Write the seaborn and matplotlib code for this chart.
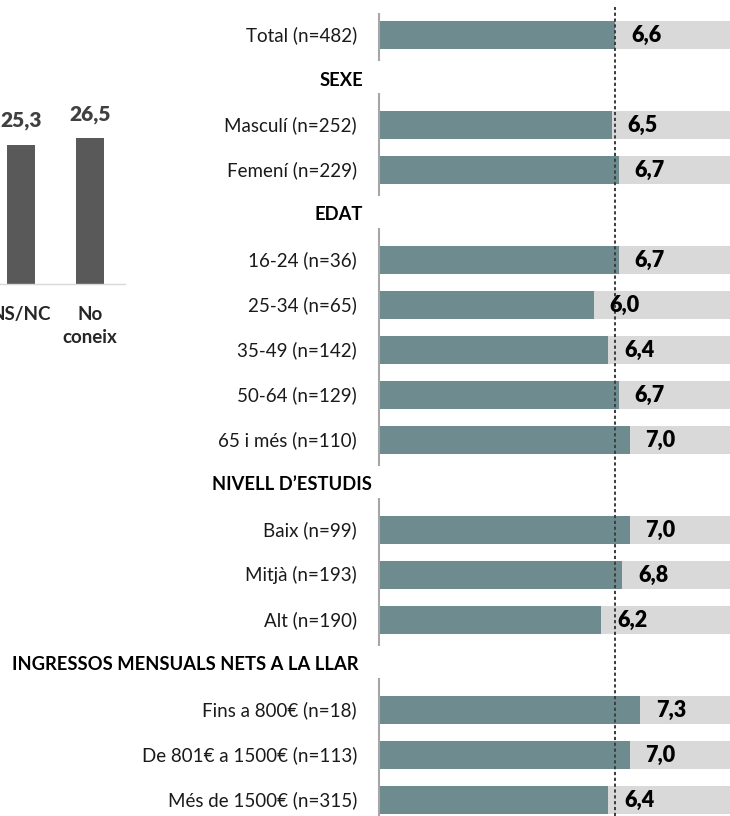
import matplotlib
matplotlib.use("Agg")
import matplotlib.pyplot as plt
import seaborn as sns
import pandas as pd
import numpy as np

sns.set_theme(style="white")
plt.rcParams['font.family'] = ['Lato', 'DejaVu Sans']

# Mean score (0-10) per group; header rows carry no value
row_labels = [
    "Total (n=482)",
    "SEXE", "Masculí (n=252)", "Femení (n=229)",
    "EDAT", "16-24 (n=36)", "25-34 (n=65)", "35-49 (n=142)", "50-64 (n=129)", "65 i més (n=110)",
    "NIVELL D’ESTUDIS", "Baix (n=99)", "Mitjà (n=193)", "Alt (n=190)",
    "INGRESSOS MENSUALS NETS A LA LLAR", "Fins a 800€ (n=18)", "De 801€ a 1500€ (n=113)",
    "Més de 1500€ (n=315)",
]
scores = [6.6,
          None, 6.5, 6.7,
          None, 6.7, 6.0, 6.4, 6.7, 7.0,
          None, 7.0, 6.8, 6.2,
          None, 7.3, 7.0, 6.4]
header_rows = ["SEXE", "EDAT", "NIVELL D’ESTUDIS", "INGRESSOS MENSUALS NETS A LA LLAR"]
scale_max = 10

# Side panel: percentage of respondents without an answer
side_categories = ["NS/NC", "No\nconeix"]
side_values = [25.3, 26.5]

TEAL = "#6E8B8F"
TRACK = "#D9D9D9"
W, H = 730, 816

df = pd.DataFrame({"label": row_labels, "score": scores})
df["score"] = pd.to_numeric(df["score"])
df["track"] = np.where(df["score"].notna(), scale_max, np.nan)

fig = plt.figure(figsize=(W / 100, H / 100), dpi=100)

# ---------- main horizontal bar chart ----------
axis_px = 379
ax = fig.add_axes([axis_px / W, 0, (W - axis_px) / W, 1])
sns.barplot(data=df, x="track", y="label", order=row_labels, orient="h",
            color=TRACK, saturation=1, width=0.63, errorbar=None,
            linewidth=0, ax=ax)
sns.barplot(data=df, x="score", y="label", order=row_labels, orient="h",
            color=TEAL, saturation=1, width=0.63, errorbar=None,
            linewidth=0, ax=ax)

px_per_unit = 35.8
ax.set_xlim(0, (W - axis_px) / px_per_unit)
row_px = 45.0
top_px = 35.0
ax.set_ylim((H - top_px) / row_px, -top_px / row_px)
ax.set_yticks([])
ax.set_xticks([])
ax.set_xlabel("")
ax.set_ylabel("")
for s in ax.spines.values():
    s.set_visible(False)

# broken category axis: one segment per block of rows
hdr_idx = [row_labels.index(h) for h in header_rows]
starts = [-0.5] + [h + 0.28 for h in hdr_idx]
ends = [h - 0.42 for h in hdr_idx] + [len(row_labels) - 0.5]
for a, b in zip(starts, ends):
    ax.vlines(0, a, b, color="#A6A6A6", lw=1.5, zorder=4, clip_on=False)

# reference line at the overall mean
ax.axvline(scores[0], ymin=0, ymax=1 - 7 / H, color="#404040", lw=1.45,
           ls=(0, (1.6, 1.3)), zorder=6)

# row labels and value labels
header_right_px = {"SEXE": 363, "EDAT": 363, "NIVELL D’ESTUDIS": 372,
                   "INGRESSOS MENSUALS NETS A LA LLAR": 358}
for i, (lab, val) in enumerate(zip(row_labels, scores)):
    if lab in header_rows:
        dx = (header_right_px[lab] - axis_px) * 0.72
        ax.annotate(lab, xy=(0, i), xytext=(dx, 0), textcoords="offset points",
                    ha="right", va="center", fontsize=13.2, fontweight="bold",
                    color="#000000", annotation_clip=False)
    else:
        ax.annotate(lab, xy=(0, i), xytext=(-22 * 0.72, 0), textcoords="offset points",
                    ha="right", va="center", fontsize=13.5, color="#1a1a1a",
                    annotation_clip=False)
        ax.annotate(f"{val:.1f}".replace(".", ","), xy=(val, i), xytext=(11.5, 0),
                    textcoords="offset points", ha="left", va="center",
                    fontsize=15.5, fontweight="heavy", color="#000000", zorder=7)

# ---------- side panel (vertical bars) ----------
base_px = 284
left_px, right_px = -13.5, 124.5
ax2 = fig.add_axes([left_px / W, (H - base_px) / H, (right_px - left_px) / W, 165 / H])
sns.barplot(x=side_categories, y=side_values, color="#595959", saturation=1,
            width=0.4, errorbar=None, linewidth=0, ax=ax2)
ax2.set_ylim(0, 30)
ax2.set_xlim(-0.5, 1.5)
ax2.set_yticks([])
for name, s in ax2.spines.items():
    s.set_visible(name == "bottom")
ax2.spines["bottom"].set_color("#D9D9D9")
ax2.spines["bottom"].set_linewidth(1.0)
ax2.tick_params(axis="x", length=0, pad=16)
for t in ax2.get_xticklabels():
    t.set_fontweight("bold")
    t.set_fontsize(13.5)
    t.set_color("#262626")
    t.set_linespacing(1.4)
for i, v in enumerate(side_values):
    ax2.annotate(f"{v:.1f}".replace(".", ","), xy=(i, v), xytext=(0, 13),
                 textcoords="offset points", ha="center", va="baseline",
                 fontsize=15, fontweight="heavy", color="#404040")

fig.savefig("out.png", dpi=100)
